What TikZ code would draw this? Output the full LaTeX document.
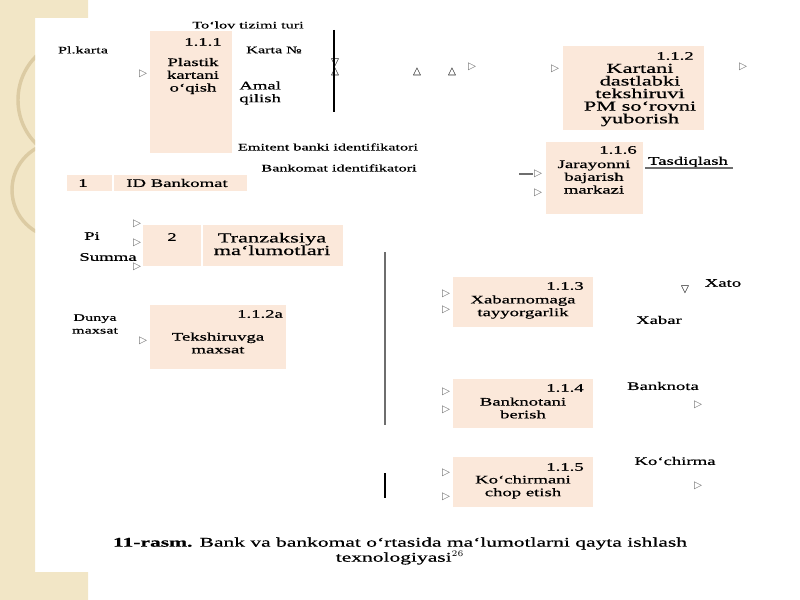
\documentclass[tikz,border=0pt]{standalone}
\usepackage{fontspec}
\setmainfont[FakeStretch=1.62,FakeBold=0.6]{Liberation Serif}
\newfontfamily\symfont{DejaVu Sans}
\usepackage{xcolor}
\definecolor{cPeach}{HTML}{FBE8DA}
\definecolor{cBeige}{HTML}{F2E6C6}
\definecolor{cTan}{HTML}{DCCBA3}
\definecolor{cGray}{HTML}{6E6E6E}
\usetikzlibrary{fit,positioning}
\tikzset{
  proc-box/.style={fill=cPeach,draw=none,inner sep=0pt},
  tbl-sep/.style={draw=white,line width=0.8pt},
  txt/.style={inner sep=0pt,align=center,font=\fontsize{6.7}{7.4}\selectfont},
  txt-lg/.style={txt,font=\fontsize{8}{7.3}\selectfont},
  txt-sm/.style={txt,font=\fontsize{5.8}{7.4}\selectfont},
  txt-l/.style={txt,align=left,anchor=west},
  caption-txt/.style={inner sep=0pt,align=center,font=\fontsize{7.7}{8.7}\selectfont},
  tip-mark/.style={inner sep=0pt,text=cGray,font=\symfont\fontsize{6}{6}\selectfont},
  bar/.style={line width=1.6pt,draw=cGray},
  rule-line/.style={line width=0.6pt,draw=black},
}

\begin{document}
\begin{tikzpicture}[x=0.58pt,y=-0.58pt]
  \useasboundingbox (0,0) rectangle (800,600);
  % slide background
  \fill[cBeige] (0,0) -- (88,0) -- (88,18) -- (35,18) -- (35,572) -- (88,572)
    -- (88,600) -- (0,600) -- cycle;
  \begin{scope}
    \clip (0,0) -- (88,0) -- (88,18) -- (35,18) -- (35,572) -- (88,572)
      -- (88,600) -- (0,600) -- cycle;
    \draw[cTan,line width=2pt] (80,100) circle (62);
    \draw[cTan,line width=2pt] (60,190) circle (48);
  \end{scope}

  % blocks
  \node[proc-box,fit={(150,31)(232,153)}] (b111) {};
  \node[proc-box,fit={(563,46)(704,130)}] (b112) {};
  \node[proc-box,fit={(546,142)(643,214)}] (b116) {};
  \node[proc-box,fit={(67,175)(247,191)}] (t1) {};
  \node[proc-box,fit={(143,225)(343,266)}] (t2) {};
  \node[proc-box,fit={(150,305)(286,369)}] (b112a) {};
  \node[proc-box,fit={(453,277)(593,327)}] (b113) {};
  \node[proc-box,fit={(453,379)(593,428)}] (b114) {};
  \node[proc-box,fit={(453,457)(593,507)}] (b115) {};
  \draw[tbl-sep] (113,175) -- (113,191);
  \draw[tbl-sep] (202,225) -- (202,266);

  % block texts
  \node[txt] (n111) at (203,42) {1.1.1};
  \node[txt] (l111) at (193,76) {Plastik\\kartani\\o`qish};
  \node[txt] (n112) at (675,56) {1.1.2};
  \node[txt-lg] (l112) at (640,95) {Kartani\\dastlabki\\tekshiruvi\\PM so`rovni\\yuborish};
  \node[txt] (n116) at (618,150) {1.1.6};
  \node[txt] (l116) at (594,177) {Jarayonni\\bajarish\\markazi};
  \node[txt] (n1) at (83,183) {1};
  \node[txt] (l1) at (177,183) {ID Bankomat};
  \node[txt] (n2) at (172,237) {2};
  \node[txt-lg] (l2) at (272,244) {Tranzaksiya\\ma`lumotlari};
  \node[txt] (n112a) at (260,314) {1.1.2a};
  \node[txt] (l112a) at (218,343) {Tekshiruvga\\maxsat};
  \node[txt] (n113) at (565,286) {1.1.3};
  \node[txt] (l113) at (523,307) {Xabarnomaga\\tayyorgarlik};
  \node[txt] (n114) at (565,388) {1.1.4};
  \node[txt] (l114) at (523,408) {Banknotani\\berish};
  \node[txt] (n115) at (565,467) {1.1.5};
  \node[txt] (l115) at (523,487) {Ko`chirmani\\chop etish};

  % free labels
  \node[txt-sm] (tolov) at (248,25) {To`lov tizimi turi};
  \node[txt-sm] (plkarta) at (83,50) {Pl.karta};
  \node[txt-sm] (kartano) at (274,50) {Karta №};
  \node[txt-l] (amal) at (239,93) {Amal\\qilish};
  \node[txt-sm] (emitent) at (328,147) {Emitent banki identifikatori};
  \node[txt-sm] (bankid) at (339,168) {Bankomat identifikatori};
  \node[txt] (pin) at (92,236) {Pi};
  \node[txt] (summa) at (108,257) {Summa};
  \node[txt-sm] (dunya) at (95,324) {Dunya\\maxsat};
  \node[txt] (tasdiq) at (688,162) {Tasdiqlash};
  \node[txt] (xato) at (723,283) {Xato};
  \node[txt] (xabar) at (659,320) {Xabar};
  \node[txt] (banknota) at (663,386) {Banknota};
  \node[txt] (kochirma) at (675,461) {Ko`chirma};

  % lines
  \coordinate (v-top) at (334,30);
  \coordinate (v-bot) at (334,112);
  \draw[rule-line] (v-top) -- (v-bot);
  \coordinate (u-l) at (645,168);
  \coordinate (u-r) at (733,168);
  \draw[draw=cGray,line width=0.6pt] (u-l) -- (u-r);
  \coordinate (s-a) at (385,252);
  \coordinate (s-b) at (385,425);
  \coordinate (s-c) at (385,473);
  \coordinate (s-d) at (385,498);
  \draw[bar] (s-a) -- (s-b);
  \draw[bar,draw=black] (s-c) -- (s-d);
  \coordinate (g-l) at (519,174);
  \coordinate (g-r) at (533,174);
  \draw[bar] (g-l) -- (g-r);

  % small arrow tips
  \foreach \x/\y [count=\i] in {143/74,137/224,137/243,137/267,143/341,472/67,
      555/69,743/67,538/174,538/193,446/294,446/310,446/392,446/410,446/473,
      446/497,698/405,698/486}
    \node[tip-mark] (r\i) at (\x,\y) {▷};
  \foreach \x/\y [count=\i] in {335/72,417/72,452/72}
    \node[tip-mark,text=black] (up\i) at (\x,\y) {△};
  \foreach \x/\y [count=\i] in {335/63,685/290}
    \node[tip-mark,text=black] (dn\i) at (\x,\y) {▽};

  % caption
  \node[caption-txt] (caption) at (400,551) {\textbf{11-rasm.} Bank va bankomat o`rtasida ma`lumotlarni qayta ishlash\\texnologiyasi$^{26}$};
\end{tikzpicture}
\end{document}
